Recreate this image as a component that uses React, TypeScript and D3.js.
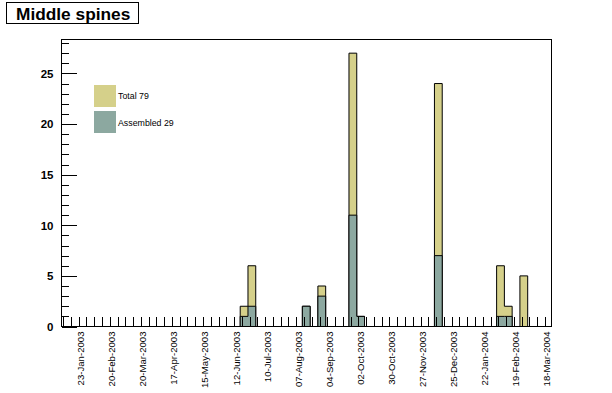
import React, { useEffect, useRef } from "react";
import * as d3 from "d3";

// weekly bins (weeks start on Sunday), only the weeks that have entries
const weekStarts = [
  "2003-06-15", "2003-06-22", "2003-08-10", "2003-08-24", "2003-09-21",
  "2003-09-28", "2003-12-07", "2004-02-01", "2004-02-08", "2004-02-22",
];
const totalCounts = [2, 6, 2, 4, 27, 1, 24, 6, 2, 5];
const assembledCounts = [1, 2, 2, 3, 11, 1, 7, 1, 1, 0];

// histogram range
const axisRange = ["2003-01-05", "2004-03-21"];
// time axis labels (every 4 weeks)
const labelDates = [
  "2003-01-23", "2003-02-20", "2003-03-20", "2003-04-17", "2003-05-15",
  "2003-06-12", "2003-07-10", "2003-08-07", "2003-09-04", "2003-10-02",
  "2003-10-30", "2003-11-27", "2003-12-25", "2004-01-22", "2004-02-19",
  "2004-03-18",
];
const yTicks = [0, 5, 10, 15, 20, 25];
const yMax = 28.35;
const legendLabels = ["Total 79", "Assembled 29"];
const colors = ["#d5d08a", "#8ca8a0"];

const App = () => {
  const ref = useRef<SVGSVGElement>(null);

  useEffect(() => {
    const width = 612;
    const height = 393;
    const margin = { top: 39.5, left: 61.5, bottom: 66.5, right: 61 };
    const font = "'Liberation Sans', Arial, Helvetica, sans-serif";

    const svg = d3.select(ref.current);
    svg.selectAll("*").remove();
    svg.attr("width", width).attr("height", height);

    const parse = d3.utcParse("%Y-%m-%d");
    const start = parse(axisRange[0]) as Date;
    const end = parse(axisRange[1]) as Date;

    const x = d3
      .scaleUtc()
      .domain([start, end])
      .range([margin.left, width - margin.right]);
    const y = d3
      .scaleLinear()
      .domain([0, yMax])
      .range([height - margin.bottom, margin.top]);

    // full list of weekly bins, empty weeks are 0
    const weeks = d3.utcWeek.range(start, end);
    const key = d3.utcFormat("%Y-%m-%d");
    const makeBins = (counts: number[]) =>
      weeks.map((w) => {
        const i = weekStarts.indexOf(key(w));
        return { date: w, value: i >= 0 ? counts[i] : 0 };
      });
    const series = [makeBins(totalCounts), makeBins(assembledCounts)];

    const area = d3
      .area<{ date: Date; value: number }>()
      .x((d) => x(d.date))
      .y0(y(0))
      .y1((d) => y(d.value))
      .curve(d3.curveStepAfter);
    const line = d3
      .line<{ date: Date; value: number }>()
      .x((d) => x(d.date))
      .y((d) => y(d.value))
      .curve(d3.curveStepAfter);

    series.forEach((bins, i) => {
      const pts = [...bins, { date: end, value: bins[bins.length - 1].value }];
      svg.append("path").datum(pts).attr("d", area).attr("fill", colors[i]);
      svg
        .append("path")
        .datum(pts)
        .attr("d", line)
        .attr("fill", "none")
        .attr("stroke", "#000")
        .attr("stroke-width", 1);
    });

    // frame
    svg
      .append("rect")
      .attr("x", margin.left)
      .attr("y", margin.top)
      .attr("width", width - margin.right - margin.left)
      .attr("height", height - margin.bottom - margin.top)
      .attr("fill", "none")
      .attr("stroke", "#000")
      .attr("shape-rendering", "crispEdges");

    // y axis, ticks pointing inside
    const yAxis = svg.append("g").attr("shape-rendering", "crispEdges");
    d3.range(0, Math.floor(yMax) + 1).forEach((v) => {
      const major = v % 5 === 0;
      yAxis
        .append("line")
        .attr("x1", margin.left)
        .attr("x2", margin.left + (major ? 15 : 7.5))
        .attr("y1", Math.round(y(v)) + 0.5)
        .attr("y2", Math.round(y(v)) + 0.5)
        .attr("stroke", "#000");
    });
    yAxis
      .selectAll("text")
      .data(yTicks)
      .enter()
      .append("text")
      .attr("x", 53.5)
      .attr("y", (d) => y(d) + 4.3)
      .attr("text-anchor", "end")
      .attr("font-family", font)
      .attr("font-weight", "bold")
      .attr("font-size", 11.5)
      .text((d) => d);

    // x axis ticks: one per week
    const xAxis = svg.append("g").attr("shape-rendering", "crispEdges");
    weeks.forEach((w) => {
      const t = d3.utcHour.offset(w, 36);
      if (t >= end) return;
      xAxis
        .append("line")
        .attr("x1", Math.round(x(t)) + 0.5)
        .attr("x2", Math.round(x(t)) + 0.5)
        .attr("y1", y(0))
        .attr("y2", y(0) - 9.3)
        .attr("stroke", "#000");
    });
    const fmt = d3.utcFormat("%d-%b-%Y");
    xAxis
      .selectAll("text")
      .data(labelDates.map((d) => parse(d) as Date))
      .enter()
      .append("text")
      .attr(
        "transform",
        (d) => `translate(${x(d) - 0.8}, ${y(0) + 5}) rotate(-90)`
      )
      .attr("text-anchor", "end")
      .attr("dominant-baseline", "central")
      .attr("font-family", font)
      .attr("font-size", 9.6)
      .text((d) => fmt(d));

    // legend
    const legend = svg.append("g");
    legendLabels.forEach((label, i) => {
      legend
        .append("rect")
        .attr("x", 94)
        .attr("y", 85 + i * 26)
        .attr("width", 22)
        .attr("height", 22)
        .attr("fill", colors[i]);
      legend
        .append("text")
        .attr("x", 118)
        .attr("y", 99 + i * 26.5)
        .attr("font-family", font)
        .attr("font-size", 8.8)
        .text(label);
    });

    // title box
    svg
      .append("rect")
      .attr("x", 6.5)
      .attr("y", 2.5)
      .attr("width", 132)
      .attr("height", 21)
      .attr("fill", "#fff")
      .attr("stroke", "#000");
    svg
      .append("text")
      .attr("x", 16)
      .attr("y", 19.5)
      .attr("font-family", font)
      .attr("font-weight", "bold")
      .attr("font-size", 17.3)
      .text("Middle spines");
  }, []);

  return (
    <div>
      <svg ref={ref} style={{ position: "absolute", left: 0, top: 0 }} />
    </div>
  );
};

export default App;
